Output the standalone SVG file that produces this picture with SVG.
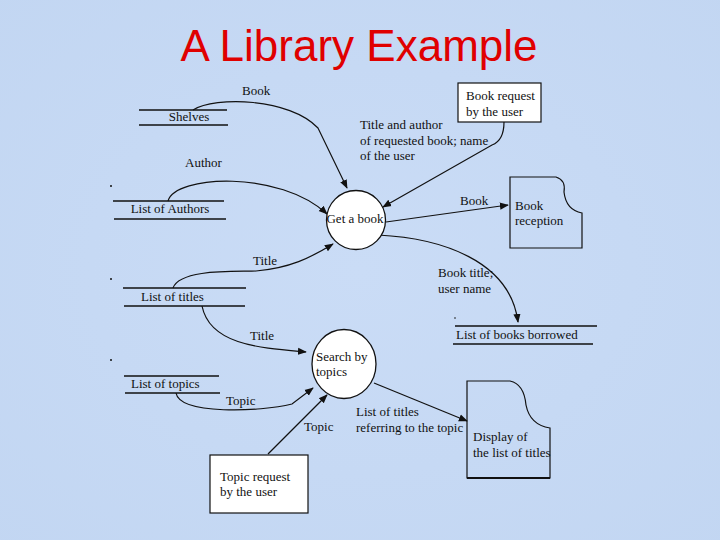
<svg xmlns="http://www.w3.org/2000/svg" width="720" height="540" viewBox="0 0 720 540">
<style>
text{font-family:"Liberation Serif","Times New Roman",serif;font-size:13px;fill:#111}
.t{font-family:"Liberation Sans",Arial,sans-serif;font-size:44px;fill:#e00000}
.c{fill:none;stroke:#111;stroke-width:1.2}
.s{stroke:#111;stroke-width:1.3}
.box{fill:#fff;stroke:#111;stroke-width:1.2}
.doc{fill:none;stroke:#111;stroke-width:1.2}
</style>
<defs>
<marker id="a" viewBox="0 0 10 10" refX="9" refY="5" markerWidth="9" markerHeight="9" markerUnits="userSpaceOnUse" orient="auto">
<path d="M0,1 L10,5 L0,9 Z" fill="#111"/>
</marker>
<radialGradient id="bg" cx="50%" cy="50%" r="75%">
<stop offset="0" stop-color="#cadcf6"/>
<stop offset="1" stop-color="#c2d6f2"/>
</radialGradient>
</defs>
<rect width="720" height="540" fill="url(#bg)"/>
<text class="t" x="359" y="61" text-anchor="middle">A Library Example</text>

<g id="connectors">
<path class="c" d="M193,110 C215,96 290,98 318,128 L347,188" marker-end="url(#a)"/>
<path class="c" d="M168,201 C175,175 280,170 327,214" marker-end="url(#a)"/>
<path class="c" d="M504,122 C504,135 500,142 492,145 L383,207" marker-end="url(#a)"/>
<path class="c" d="M386,222 L508,205" marker-end="url(#a)"/>
<path class="c" d="M378,235 C440,238 510,260 518,322" marker-end="url(#a)"/>
<path class="c" d="M173,288 C180,268 240,272 256,271 C290,268 310,258 333,244" marker-end="url(#a)"/>
<path class="c" d="M202,306 C210,345 260,348 306,352" marker-end="url(#a)"/>
<path class="c" d="M176,393 C180,415 260,412 292,404 L313,388" marker-end="url(#a)"/>
<path class="c" d="M268,454 L327,395" marker-end="url(#a)"/>
<path class="c" d="M374,383 L467,421" marker-end="url(#a)"/>
</g>

<g id="labels">
<text x="242" y="95">Book</text>
<text x="185" y="167">Author</text>
<text x="360" y="129">Title and author</text>
<text x="360" y="145">of requested book; name</text>
<text x="360" y="160">of the user</text>
<text x="460" y="205">Book</text>
<text x="438" y="277">Book title;</text>
<text x="438" y="293">user name</text>
<text x="253" y="265">Title</text>
<text x="250" y="340">Title</text>
<text x="226" y="405">Topic</text>
<text x="304" y="431">Topic</text>
<text x="356" y="416">List of titles</text>
<text x="356" y="432">referring to the topic</text>
</g>

<g id="shelves">
<line class="s" x1="139" y1="110" x2="227" y2="110"/>
<line class="s" x1="139" y1="125" x2="228" y2="125"/>
<text x="189" y="121" text-anchor="middle">Shelves</text>
</g>
<g id="list-of-authors">
<line class="s" x1="113" y1="201" x2="224" y2="201"/>
<line class="s" x1="114" y1="219" x2="226" y2="219"/>
<text x="170" y="213" text-anchor="middle">List of Authors</text>
</g>
<g id="book-request">
<rect class="box" x="458" y="83" width="83" height="39"/>
<text x="466" y="100">Book request</text>
<text x="466" y="116">by the user</text>
</g>
<g id="get-a-book">
<circle cx="356" cy="220" r="29.5" fill="#fff" stroke="#111" stroke-width="1.3"/>
<text x="355" y="223" text-anchor="middle">Get a book</text>
</g>
<g id="book-reception">
<path class="doc" d="M510,177 L556,177 Q566,180 564,192 Q566,210 582,213 L582,248 L510,248 Z"/>
<text x="515" y="210">Book</text>
<text x="515" y="225">reception</text>
</g>
<g id="list-of-books-borrowed">
<line class="s" x1="455" y1="326" x2="597" y2="326"/>
<line class="s" x1="453" y1="344" x2="593" y2="344"/>
<text x="456" y="339">List of books borrowed</text>
</g>
<g id="list-of-titles">
<line class="s" x1="123" y1="288" x2="246" y2="288"/>
<line class="s" x1="124" y1="306" x2="245" y2="306"/>
<text x="141" y="301">List of titles</text>
</g>
<g id="search-by-topics">
<ellipse cx="344" cy="364" rx="32" ry="34.5" fill="#fff" stroke="#111" stroke-width="1.3"/>
<text x="316" y="361">Search by</text>
<text x="316" y="376">topics</text>
</g>
<g id="list-of-topics">
<line class="s" x1="124" y1="376" x2="219" y2="376"/>
<line class="s" x1="125" y1="393" x2="220" y2="393"/>
<text x="131" y="388">List of topics</text>
</g>
<g id="topic-request">
<rect class="box" x="210" y="455" width="98" height="58"/>
<text x="220" y="481">Topic request</text>
<text x="220" y="496">by the user</text>
</g>
<g id="display-list">
<path class="doc" d="M467,381 L510,381 Q524,384 526,405 Q530,425 550,428 L550,478 L467,478 Z"/>
<line x1="467" y1="478" x2="550" y2="478" stroke="#111" stroke-width="2"/>
<text x="473" y="441">Display of</text>
<text x="473" y="457">the list of titles</text>
</g>
<g id="dots" fill="#111">
<circle cx="111" cy="186" r="1"/>
<circle cx="111" cy="279" r="1"/>
<circle cx="111" cy="360" r="1"/>
<circle cx="455" cy="318" r="0.8"/>
</g>
</svg>
